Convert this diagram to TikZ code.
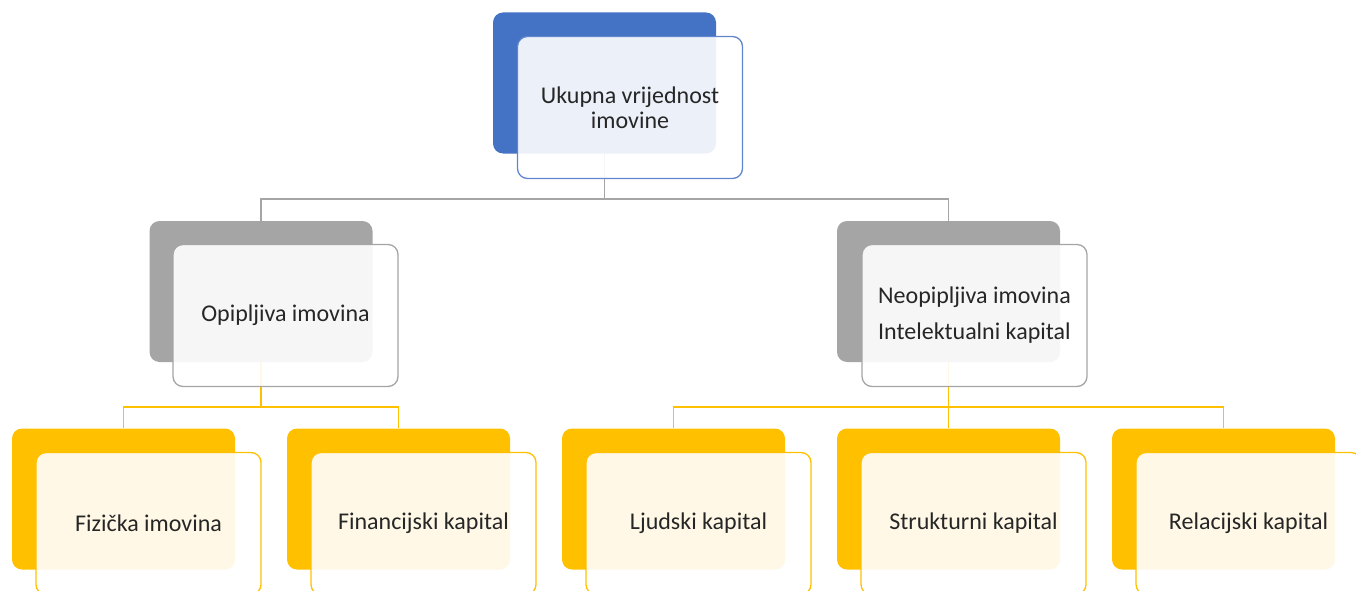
\documentclass[tikz,border=0pt]{standalone}
\usepackage{fontspec}
\setmainfont{Carlito}
\usetikzlibrary{backgrounds}
\definecolor{cblue}{HTML}{4472C4}
\definecolor{cgray}{HTML}{A5A5A5}
\definecolor{cgold}{HTML}{FFC000}
\definecolor{txt}{HTML}{262626}
\begin{document}
\begin{tikzpicture}[x=1pt,y=-1pt,
  back/.style={rounded corners=10pt, minimum width=223pt, minimum height=141pt, inner sep=0pt, fill=#1},
  front/.style={rounded corners=10pt, minimum width=225pt, minimum height=142pt, inner sep=0pt,
    draw=#1, line width=1.3pt, fill=white, fill opacity=0.9, text opacity=1, text=txt,
    font=\fontsize{24}{25}\selectfont, align=center},
  conn/.style={draw=#1, line width=1.3pt},
]
\useasboundingbox (0,0) rectangle (1356,591);
\clip (0,0) rectangle (1356,591);
% level 0
\node[back=cblue] (b0) at (604.5,83) {};
\node[front=cblue!85!white] (f0) at (630,107.5) {Ukupna vrijednost\\imovine};
% level 1
\node[back=cgray] (b1) at (261,291.5) {};
\node[front=cgray] (f1) at (285.5,315.5) {Opipljiva imovina};
\node[back=cgray] (b2) at (948.5,291.5) {};
\node[front=cgray, align=left] (f2) at (974.5,315.5) {Neopipljiva imovina\\[11pt]Intelektualni kapital};
% level 2
\node[back=cgold] (b3) at (123.5,499) {};
\node[front=cgold] (f3) at (148.5,523.5) {Fizička imovina};
\node[back=cgold] (b4) at (398.5,499) {};
\node[front=cgold] (f4) at (423.5,523.5) {Financijski kapital};
\node[back=cgold] (b5) at (673.5,499) {};
\node[front=cgold] (f5) at (698.5,523.5) {Ljudski kapital};
\node[back=cgold] (b6) at (948.5,499) {};
\node[front=cgold] (f6) at (973.5,523.5) {Strukturni kapital};
\node[back=cgold] (b7) at (1223.5,499) {};
\node[front=cgold] (f7) at (1248.5,523.5) {Relacijski kapital};
% connectors
\coordinate (j0) at (604.5,199);
\coordinate (j1) at (261,407);
\coordinate (j2) at (948.5,407);
\begin{pgfonlayer}{background}
\draw[conn=cgray] (b0.south) -- (j0) -| (b1.north);
\draw[conn=cgray] (j0) -| (b2.north);
\draw[conn=cgold] (b1.south) -- (j1) -| (b3.north);
\draw[conn=cgold] (j1) -| (b4.north);
\draw[conn=cgold] (b2.south) -- (j2) -| (b5.north);
\draw[conn=cgold] (j2) -| (b7.north);
\draw[conn=cgold] (j2) -- (b6.north);
\end{pgfonlayer}
\end{tikzpicture}
\end{document}
